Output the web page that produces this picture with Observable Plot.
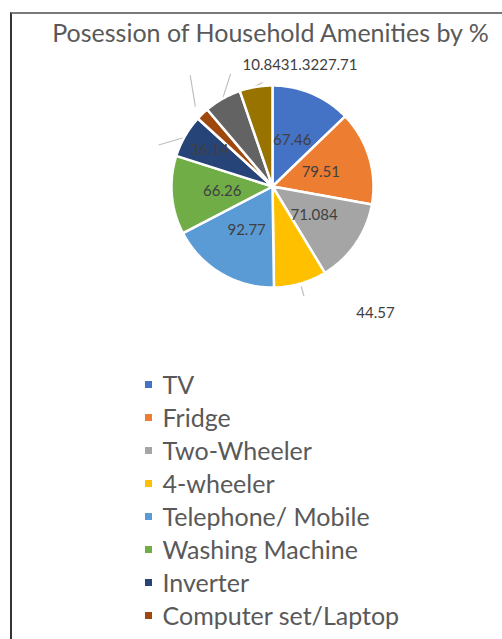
<!DOCTYPE html>
<html>
<head>
<meta charset="utf-8">
<script src="https://cdn.jsdelivr.net/npm/d3@7"></script>
<script src="https://cdn.jsdelivr.net/npm/@observablehq/plot@0.6"></script>
<style>
  html, body { margin: 0; padding: 0; background: #fff; overflow: hidden; }
  #wrap { position: relative; width: 502px; height: 639px; }
  #frame { position: absolute; left: 10px; top: 12px; width: 600px; height: 700px;
           border-left: 2px solid #333; border-top: 2px solid #7a7a7a; box-sizing: border-box; pointer-events: none; }
</style>
</head>
<body>
<div id="wrap"><div id="frame"></div></div>
<script>
const title = "Posession of Household Amenities by %";
const categories = ["TV", "Fridge", "Two-Wheeler", "4-wheeler", "Telephone/ Mobile",
  "Washing Machine", "Inverter", "Computer set/Laptop", "Item 9", "Item 10"];
const values = [67.46, 79.51, 71.084, 44.57, 92.77, 66.26, 36.14, 10.84, 31.32, 27.71];
const valueLabels = ["67.46", "79.51", "71.084", "44.57", "92.77", "66.26", "36.14", "10.84", "31.32", "27.71"];
const colors = ["#4472C4", "#ED7D31", "#A5A5A5", "#FFC000", "#5B9BD5", "#70AD47",
  "#264478", "#9E480E", "#636363", "#997300"];
const legendCount = 8; // entries visible in the picture

// layout
const W = 502, H = 639;
const cx = 272, cy = 186, R = 101;
const font = "Lato, 'Open Sans', sans-serif";

const pie = d3.pie().sort(null).value(d => d.value)(
  categories.map((name, i) => ({name, value: values[i], label: valueLabels[i], color: colors[i]})));

const pt = (ang, r) => [cx + r * Math.sin(ang), cy - r * Math.cos(ang)];

const slicePts = [];
pie.forEach(s => {
  slicePts.push({name: s.data.name, color: s.data.color, x: cx, y: cy});
  const n = Math.max(2, Math.ceil((s.endAngle - s.startAngle) / (Math.PI / 180)));
  for (let k = 0; k <= n; k++) {
    const a = s.startAngle + (s.endAngle - s.startAngle) * k / n;
    const [x, y] = pt(a, R);
    slicePts.push({name: s.data.name, color: s.data.color, x, y});
  }
  slicePts.push({name: s.data.name, color: s.data.color, x: cx, y: cy});
});

// inside labels
const insideIdx = [0, 1, 2, 4, 5, 6];
const insideR = {6: 0.72};
const inside = insideIdx.map(i => {
  const s = pie[i];
  const a = (s.startAngle + s.endAngle) / 2;
  const [x, y] = pt(a, R * (insideR[i] || 0.5));
  return {x, y, text: s.data.label};
});

// outside label for 4-wheeler
const outside = [3].map(i => ({x: 375, y: 313, text: pie[i].data.label}));
// combined top label for the three last slices
const topLabel = [{x: 242, y: 65, text: [7, 8, 9].map(i => pie[i].data.label).join("")}];

// leader lines: start at slice mid-angle on the rim, end at polar target (deg, radius factor)
const leaderTargets = {3: [164, 1.13, 1.03], 6: [290, 1.2, 1.0, 299], 7: [323.5, 1.37, 1.1], 8: [339.6, 1.19, 1.0], 9: [354.5, 1.035, 1.0, 349]};
const leaders = Object.entries(leaderTargets).map(([i, t]) => {
  const s = pie[+i];
  const mid = t[3] !== undefined ? t[3] * Math.PI / 180 : (s.startAngle + s.endAngle) / 2;
  const [x1, y1] = pt(mid, R * t[2]);
  const [x2, y2] = pt(t[0] * Math.PI / 180, R * t[1]);
  return {x1, y1, x2, y2};
});

const legend = categories.slice(0, legendCount).map((name, i) => ({
  name, color: colors[i], y: 385 + i * 33
}));

const chart = Plot.plot({
  width: W, height: H, margin: 0,
  x: {domain: [0, W], range: [0, W], axis: null},
  y: {domain: [0, H], range: [0, H], axis: null},
  style: {background: "transparent", fontFamily: font},
  marks: [
    Plot.text([title], {x: () => 270, y: () => 33, text: d => d, fontSize: 25, fill: "#595959", textAnchor: "middle"}),
    Plot.link(leaders, {x1: "x1", y1: "y1", x2: "x2", y2: "y2", stroke: "#bfbfbf", strokeWidth: 1.2}),
    Plot.line(slicePts, {x: "x", y: "y", z: "name", fill: "color", stroke: "white", strokeWidth: 2.5, strokeLinejoin: "miter"}),
    Plot.text(inside, {x: "x", y: "y", text: "text", fontSize: 15, fill: "#404040"}),
    Plot.text(outside, {x: "x", y: "y", text: "text", fontSize: 15, fill: "#404040"}),
    Plot.text(topLabel, {x: "x", y: "y", text: "text", fontSize: 15, fill: "#404040", textAnchor: "start"}),
    Plot.rect(legend, {x1: () => 145, x2: () => 152, y1: d => d.y - 4, y2: d => d.y + 3, fill: "color"}),
    Plot.text(legend, {x: () => 162, y: "y", text: "name", fontSize: 25, fill: "#595959", textAnchor: "start"})
  ]
});
chart.style.position = "absolute";
chart.style.left = "0px";
chart.style.top = "0px";
document.getElementById("wrap").prepend(chart);
</script>
</body>
</html>
